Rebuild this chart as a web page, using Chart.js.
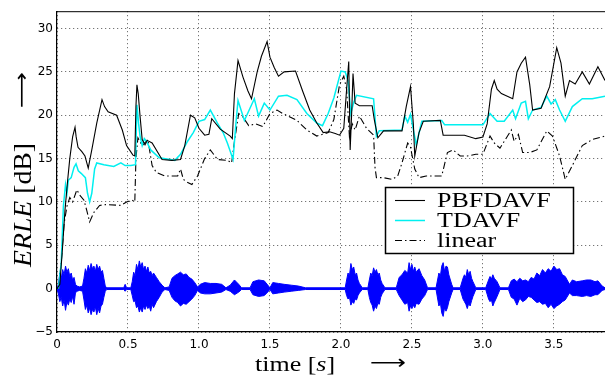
<!DOCTYPE html>
<html lang="en">
<head>
  <meta charset="UTF-8" />
  <title>ERLE over time</title>
  <script src="https://cdn.jsdelivr.net/npm/chart.js"></script>
  <style>
    * { margin: 0; padding: 0; box-sizing: border-box; }
    body { background: #fff; width: 605px; height: 376px; overflow: hidden; }
    canvas { display: block; }
  </style>
</head>
<body>
  <canvas id="erleChart" width="605" height="376"></canvas>
  <script>
    // --- data (time in s, ERLE in dB) ---
    const pbT = [0, 0.02, 0.04, 0.056, 0.075, 0.09, 0.11, 0.127, 0.135, 0.148, 0.175, 0.197, 0.21, 0.22, 0.245, 0.28, 0.317, 0.335, 0.36, 0.42, 0.46, 0.49, 0.535, 0.548, 0.556, 0.563, 0.572, 0.585, 0.6, 0.62, 0.635, 0.67, 0.74, 0.81, 0.87, 0.9, 0.94, 0.97, 1.0, 1.04, 1.07, 1.09, 1.15, 1.22, 1.235, 1.25, 1.275, 1.31, 1.345, 1.37, 1.41, 1.44, 1.48, 1.5, 1.53, 1.56, 1.6, 1.68, 1.73, 1.78, 1.83, 1.875, 1.92, 1.96, 1.99, 2.02, 2.04, 2.055, 2.065, 2.075, 2.085, 2.1, 2.13, 2.22, 2.235, 2.26, 2.3, 2.43, 2.46, 2.49, 2.51, 2.52, 2.55, 2.58, 2.7, 2.72, 2.87, 2.95, 3.0, 3.03, 3.06, 3.08, 3.1, 3.13, 3.21, 3.24, 3.27, 3.3, 3.33, 3.35, 3.41, 3.47, 3.52, 3.55, 3.58, 3.61, 3.65, 3.7, 3.75, 3.81, 3.86];
    const pbVals = [0, 0.5, 5, 9, 12.5, 15, 17.5, 18.6, 17.5, 16.3, 15.8, 15.3, 14.5, 13.9, 16, 19.1, 21.8, 21, 20.4, 20, 18.3, 16.5, 15.4, 15.3, 21, 23.5, 22.5, 19.9, 17.2, 16.6, 17.1, 16.8, 14.9, 14.8, 14.9, 16.5, 20, 19.7, 18.5, 17.7, 17.8, 19.6, 18.4, 17.6, 17.3, 22.5, 26.3, 24.4, 22.8, 21.9, 25, 26.8, 28.5, 26.7, 25.5, 24.5, 25, 25.1, 22.8, 20.6, 19.1, 18, 18.1, 17.9, 17.7, 18.5, 23, 26.2, 16, 20, 24.8, 21.4, 21.1, 21.1, 19.5, 17.4, 18.2, 18.2, 21, 23.3, 19, 15.3, 18, 19.3, 19.4, 17.7, 17.7, 17.3, 17.5, 19, 23, 24, 23, 22.5, 21.9, 25, 26, 26.7, 23.5, 20.6, 20.8, 23.3, 27.8, 26, 22.2, 24, 23.6, 25, 23.6, 25.6, 24];

    const tdT = [0.01, 0.03, 0.045, 0.06, 0.07, 0.08, 0.1, 0.12, 0.134, 0.15, 0.17, 0.2, 0.215, 0.23, 0.245, 0.265, 0.28, 0.33, 0.4, 0.45, 0.48, 0.52, 0.553, 0.563, 0.575, 0.585, 0.6, 0.615, 0.63, 0.66, 0.72, 0.83, 0.87, 0.92, 0.96, 1.0, 1.04, 1.08, 1.13, 1.17, 1.2, 1.24, 1.26, 1.275, 1.32, 1.39, 1.42, 1.46, 1.5, 1.56, 1.62, 1.69, 1.76, 1.83, 1.87, 1.91, 1.95, 2.0, 2.03, 2.05, 2.07, 2.09, 2.11, 2.23, 2.25, 2.27, 2.43, 2.45, 2.47, 2.49, 2.53, 2.57, 2.71, 2.73, 3.0, 3.05, 3.1, 3.15, 3.21, 3.23, 3.27, 3.3, 3.32, 3.35, 3.41, 3.45, 3.48, 3.51, 3.54, 3.58, 3.63, 3.7, 3.77, 3.86];
    const tdVals = [0, 3, 9.5, 12, 11, 12.5, 12.8, 14, 14.4, 13.6, 13.3, 12.8, 11, 10, 11, 13.8, 14.5, 14.3, 14.1, 14.5, 14.2, 14.2, 14.3, 21.2, 19, 17.6, 16.5, 17.3, 17, 16, 15.1, 14.8, 15.5, 17, 18, 19.3, 19.5, 20.6, 19.1, 18, 16.8, 14.9, 19, 21.7, 19.4, 21.9, 19.9, 21.4, 20.6, 22.2, 22.3, 21.8, 20.2, 19.1, 18.8, 20.2, 22, 25.1, 25, 24, 20.2, 21.5, 22.3, 21.9, 17.6, 18.2, 18.3, 19.9, 19.2, 20.1, 16.6, 19.3, 19.4, 18.9, 18.9, 20.2, 19.3, 19.3, 20.6, 19.6, 21.4, 21.6, 19.6, 20.6, 20.9, 22.2, 21.3, 21.8, 20.6, 19.3, 21, 21.9, 21.9, 22.2];

    const linT = [0.01, 0.03, 0.05, 0.07, 0.09, 0.11, 0.14, 0.16, 0.19, 0.21, 0.23, 0.26, 0.3, 0.35, 0.45, 0.49, 0.53, 0.548, 0.556, 0.57, 0.6, 0.64, 0.67, 0.7, 0.76, 0.85, 0.87, 0.89, 0.915, 0.95, 0.99, 1.04, 1.08, 1.13, 1.2, 1.23, 1.25, 1.28, 1.31, 1.35, 1.4, 1.45, 1.5, 1.55, 1.59, 1.69, 1.76, 1.83, 1.87, 1.91, 1.95, 1.99, 2.02, 2.04, 2.06, 2.08, 2.1, 2.13, 2.18, 2.23, 2.24, 2.25, 2.3, 2.36, 2.4, 2.43, 2.47, 2.49, 2.52, 2.55, 2.6, 2.68, 2.71, 2.75, 2.79, 2.84, 2.89, 2.95, 3.0, 3.05, 3.08, 3.12, 3.2, 3.22, 3.25, 3.28, 3.33, 3.38, 3.45, 3.49, 3.54, 3.58, 3.63, 3.7, 3.77, 3.86];
    const linVals = [0, 3, 7.5, 9.5, 10.5, 10, 11.4, 10.8, 10.2, 9, 7.7, 8.8, 9.6, 9.7, 9.6, 10, 10.2, 10, 15, 17.4, 16.5, 17.2, 14.2, 13.4, 13, 13, 13.8, 12.6, 12.3, 12, 13, 15, 16, 14.9, 14.8, 14.5, 17, 20.2, 19.8, 18.8, 19, 18.7, 20.2, 20.6, 20.2, 19.4, 18.3, 17.6, 17.8, 18, 19.5, 23.5, 24.5, 23, 17.5, 19, 18.3, 19.9, 18.5, 17.7, 14, 12.8, 12.8, 12.6, 13, 14.5, 16.8, 16.3, 13.8, 12.8, 13, 13, 13, 15.7, 16, 15.3, 15.3, 15.5, 15.5, 17.6, 16.8, 16.2, 18.3, 17, 17.8, 15.7, 15.7, 16, 18.2, 17.6, 15.3, 12.6, 14.2, 16.5, 17.2, 17.6];

    // speech signal envelope (upper / lower amplitude), one line per burst group
    const speechT = [
      0, 0.01, 0.02, 0.03, 0.04, 0.05, 0.06, 0.07, 0.08, 0.09, 0.1, 0.11, 0.12, 0.13, 0.14, 0.16, 0.18,
      0.19, 0.2, 0.21, 0.22, 0.23, 0.24, 0.25, 0.26, 0.27, 0.28, 0.29, 0.3, 0.31, 0.32, 0.33, 0.34, 0.35,
      0.47, 0.48, 0.49, 0.52, 0.53, 0.54, 0.55, 0.56, 0.57, 0.58, 0.59, 0.6, 0.61, 0.62, 0.63, 0.64, 0.65, 0.66, 0.67, 0.68, 0.7, 0.72, 0.74, 0.76,
      0.79, 0.81, 0.83, 0.85, 0.87, 0.89, 0.91, 0.93, 0.95, 0.97, 0.99, 1.01, 1.04, 1.08, 1.12, 1.16, 1.19, 1.22, 1.25, 1.28, 1.3, 1.36, 1.38, 1.42, 1.46, 1.49, 1.5, 1.52, 1.56, 1.6, 1.65, 1.7, 1.75,
      2.03, 2.04, 2.05, 2.06, 2.07, 2.08, 2.09, 2.1, 2.11, 2.12, 2.13, 2.15, 2.19, 2.2, 2.21, 2.22, 2.23, 2.24, 2.25, 2.26, 2.27, 2.28, 2.29, 2.31,
      2.39, 2.41, 2.43, 2.45, 2.47, 2.48, 2.49, 2.5, 2.51, 2.52, 2.53, 2.55, 2.57, 2.59, 2.61, 2.67, 2.69, 2.7, 2.71, 2.72, 2.73, 2.74, 2.75, 2.76, 2.78, 2.79,
      2.84, 2.86, 2.87, 2.88, 2.89, 2.9, 2.91, 2.92, 2.93, 2.95, 3.02, 3.04, 3.05, 3.06, 3.07, 3.08, 3.1, 3.12,
      3.18, 3.2, 3.22, 3.24, 3.26, 3.28, 3.3, 3.32, 3.34, 3.36, 3.38, 3.4, 3.42, 3.44, 3.46, 3.48, 3.5, 3.52, 3.54, 3.56, 3.58, 3.61, 3.63, 3.66, 3.7, 3.73, 3.76, 3.79, 3.81, 3.84, 3.86
    ];
    const speechHi = [
      0, 0.5, 1.8, 1.2, 2.2, 1.6, 2.6, 1.9, 2.3, 1.4, 1.8, 1.0, 1.3, 0.5, 0.3, 0.2, 0.3,
      1.2, 2.3, 1.8, 2.7, 2.1, 2.9, 2.3, 2.6, 2.0, 2.8, 2.2, 2.6, 1.9, 2.1, 1.2, 0.3, 0.1,
      0.1, 0.5, 0.1, 0.1, 0.8, 1.9, 1.5, 2.8, 2.2, 3.2, 2.5, 3.0, 2.2, 2.6, 2.0, 2.5, 1.8, 2.0, 1.5, 1.8, 1.3, 0.8, 0.4, 0.1,
      0.2, 1.2, 1.5, 1.7, 1.9, 1.6, 1.7, 1.3, 1.1, 0.7, 0.2, 0.5, 0.7, 0.6, 0.6, 0.5, 0.1, 0.4, 1.0, 0.5, 0.1, 0.1, 0.8, 1.0, 0.9, 0.3, 0.1, 0.7, 0.6, 0.5, 0.4, 0.3, 0.1,
      0.1, 1.0, 1.8, 1.5, 2.9, 2.2, 2.5, 1.6, 1.8, 1.0, 0.6, 0.1, 0.1, 1.0, 1.8, 1.5, 2.4, 1.9, 2.2, 1.6, 1.8, 1.0, 0.6, 0.1,
      0.1, 1.3, 1.6, 2.1, 1.8, 3.0, 2.2, 2.8, 2.0, 2.5, 1.9, 2.3, 1.5, 1.0, 0.1, 0.1, 1.8, 1.4, 2.6, 3.0, 2.0, 2.6, 2.5, 1.6, 0.5, 0.1,
      0.1, 1.2, 1.6, 1.3, 2.2, 1.6, 2.0, 1.2, 0.8, 0.1, 0.1, 1.0, 1.4, 1.1, 1.6, 1.2, 0.8, 0.1,
      0.1, 0.9, 1.1, 0.8, 1.2, 0.9, 1.0, 0.8, 1.3, 1.1, 1.8, 1.5, 2.2, 1.8, 2.3, 2.0, 2.6, 2.2, 2.3, 1.6, 1.4, 0.5, 1.0, 0.8, 0.9, 1.0, 1.0, 0.8, 0.9, 0.3, 0.1
    ];
    const speechLo = [
      0, -0.6, -1.5, -1.0, -2.0, -1.3, -2.5, -1.5, -1.9, -1.2, -1.6, -0.9, -1.8, -0.5, -0.3, -0.2, -0.3,
      -1.3, -2.4, -1.9, -2.8, -2.2, -3.0, -2.4, -2.7, -2.1, -3.0, -2.3, -2.8, -2.0, -1.8, -1.0, -0.3, -0.1,
      -0.1, -0.3, -0.1, -0.1, -0.8, -1.5, -1.4, -2.2, -2.0, -2.7, -2.2, -2.7, -2.0, -2.4, -1.9, -2.3, -2.0, -2.6, -1.8, -2.2, -1.5, -1.0, -0.4, -0.1,
      -0.2, -1.0, -1.4, -1.6, -2.0, -1.7, -1.8, -1.5, -1.2, -0.8, -0.2, -0.5, -0.6, -0.6, -0.5, -0.4, -0.1, -0.3, -0.7, -0.4, -0.1, -0.1, -0.7, -0.9, -0.8, -0.3, -0.1, -0.6, -0.5, -0.4, -0.3, -0.2, -0.1,
      -0.1, -0.8, -1.2, -1.0, -1.9, -1.5, -1.7, -1.2, -1.3, -0.8, -0.5, -0.1, -0.1, -1.0, -1.6, -1.9, -2.6, -2.0, -2.3, -1.7, -1.8, -1.0, -0.6, -0.1,
      -0.1, -0.8, -1.3, -1.8, -1.6, -2.6, -2.0, -2.3, -1.9, -2.2, -1.7, -1.8, -1.2, -0.8, -0.1, -0.1, -2.0, -1.6, -2.8, -3.2, -2.2, -2.6, -2.2, -1.5, -0.5, -0.1,
      -0.1, -1.2, -1.5, -1.8, -2.3, -1.7, -2.0, -1.4, -0.9, -0.1, -0.1, -1.2, -1.5, -1.3, -2.0, -1.6, -0.9, -0.1,
      -0.1, -1.0, -1.2, -1.9, -1.1, -1.5, -1.3, -0.9, -1.0, -1.3, -1.6, -1.5, -1.8, -1.7, -2.2, -1.8, -2.3, -2.0, -1.8, -1.5, -1.3, -0.5, -0.8, -0.8, -0.9, -0.8, -0.9, -0.7, -0.7, -0.2, -0.1
    ];

    const xTicks = [0, 0.5, 1, 1.5, 2, 2.5, 3, 3.5];
    const yTicks = [-5, 0, 5, 10, 15, 20, 25, 30];
    const legendNames = ['PBFDAVF', 'TDAVF', 'linear'];

    const pts = (xs, ys) => xs.map((x, i) => ({ x, y: ys[i] }));
    const SX = 1.3; // the figure is stretched sideways

    // axis titles, legend box and top frame line
    const decor = {
      id: 'decor',
      afterDraw(chart) {
        const ctx = chart.ctx, a = chart.chartArea;
        ctx.save();
        ctx.fillStyle = '#000';
        ctx.strokeStyle = '#000';

        ctx.lineWidth = 1;
        ctx.beginPath();
        ctx.moveTo(a.left, a.top + 0.5);
        ctx.lineTo(a.right, a.top + 0.5);
        ctx.stroke();

        // x title: time [s]  ->
        ctx.textBaseline = 'alphabetic';
        const xParts = [['time [', '20px "Liberation Serif"'], ['s', 'italic 20px "Liberation Serif"'], [']', '20px "Liberation Serif"']];
        let x = 255;
        xParts.forEach(([s, f]) => {
          ctx.font = f;
          ctx.save(); ctx.translate(x, 371); ctx.scale(SX, 1); ctx.fillText(s, 0, 0); ctx.restore();
          x += ctx.measureText(s).width * SX;
        });
        ctx.font = '20px "DejaVu Sans"';
        let aw = ctx.measureText('⟶').width;
        ctx.save(); ctx.translate(370, 369); ctx.scale(36 / aw, 1); ctx.fillText('⟶', 0, 0); ctx.restore();

        // y title: ERLE [dB]  ->  (rotated)
        ctx.save();
        ctx.translate(31, 267);
        ctx.rotate(-Math.PI / 2);
        const yParts = [['ERLE', 'italic 20px "Liberation Serif"'], [' [dB]', '20px "Liberation Serif"']];
        let total = 0;
        yParts.forEach(([s, f]) => { ctx.font = f; total += ctx.measureText(s).width; });
        const along = 124 / total;
        let p = 0;
        yParts.forEach(([s, f]) => {
          ctx.font = f;
          ctx.save(); ctx.translate(p, 0); ctx.scale(along, SX); ctx.fillText(s, 0, 0); ctx.restore();
          p += ctx.measureText(s).width * along;
        });
        ctx.font = '20px "DejaVu Sans"';
        aw = ctx.measureText('⟶').width;
        ctx.save(); ctx.translate(159, -3); ctx.scale(36 / aw, 1); ctx.fillText('⟶', 0, 0); ctx.restore();
        ctx.restore();

        // legend
        const bx = 385.5, by = 187.5, bw = 188, bh = 66;
        ctx.fillStyle = '#fff';
        ctx.fillRect(bx, by, bw, bh);
        ctx.lineWidth = 1.5;
        ctx.strokeStyle = '#000';
        ctx.strokeRect(bx, by, bw, bh);
        const sets = chart.data.datasets;
        legendNames.forEach((name, i) => {
          const ds = sets[i];
          const ly = 200.5 + i * 20;
          ctx.strokeStyle = ds.borderColor;
          ctx.lineWidth = ds.borderWidth;
          ctx.setLineDash(ds.borderDash || []);
          ctx.beginPath(); ctx.moveTo(395, ly); ctx.lineTo(425, ly); ctx.stroke();
          ctx.setLineDash([]);
          ctx.fillStyle = '#000';
          ctx.font = '20px "Liberation Serif"';
          ctx.save(); ctx.translate(437, 207 + i * 20); ctx.scale(SX, 1); ctx.fillText(name, 0, 0); ctx.restore();
        });
        ctx.restore();
      }
    };

    new Chart(document.getElementById('erleChart'), {
      type: 'line',
      data: {
        datasets: [
          { label: legendNames[0], data: pts(pbT, pbVals), borderColor: '#000', borderWidth: 1.1, order: 1 },
          { label: legendNames[1], data: pts(tdT, tdVals), borderColor: '#00f0f0', borderWidth: 1.5, order: 2 },
          { label: legendNames[2], data: pts(linT, linVals), borderColor: '#000', borderWidth: 1.1, borderDash: [7, 3, 1.5, 3], order: 3 },
          { label: 'speech', data: pts(speechT, speechHi), borderColor: '#0000ff', backgroundColor: '#0000ff', borderWidth: 1, fill: '+1', order: 5 },
          { label: 'speech lo', data: pts(speechT, speechLo), borderColor: '#0000ff', borderWidth: 1, fill: false, order: 6 }
        ]
      },
      options: {
        responsive: false,
        animation: false,
        devicePixelRatio: 1,
        layout: { padding: { top: 6, right: 0, left: 0, bottom: 0 } },
        elements: { point: { radius: 0 }, line: { tension: 0 } },
        plugins: { legend: { display: false }, tooltip: { enabled: false } },
        scales: {
          x: {
            type: 'linear',
            min: 0, max: 3.86,
            afterFit: s => { s.height = 44; },
            afterBuildTicks: s => { s.ticks = xTicks.map(v => ({ value: v })); },
            ticks: { font: { family: 'DejaVu Sans', size: 12 }, color: '#000', padding: 6, maxRotation: 0 },
            grid: { color: '#555', drawTicks: false, lineWidth: 1 },
            border: { color: '#000', width: 1.2, dash: [1, 3] }
          },
          y: {
            min: -5, max: 32,
            afterFit: s => { s.width = 57; },
            afterBuildTicks: s => { s.ticks = yTicks.map(v => ({ value: v })); },
            ticks: {
              font: { family: 'DejaVu Sans', size: 12 }, color: '#000', padding: 4,
              callback: v => String(v).replace('-', '\u2212')
            },
            grid: { color: '#555', drawTicks: false, lineWidth: 1 },
            border: { color: '#000', width: 1.2, dash: [1, 3] }
          }
        }
      },
      plugins: [decor]
    });
  </script>
</body>
</html>
